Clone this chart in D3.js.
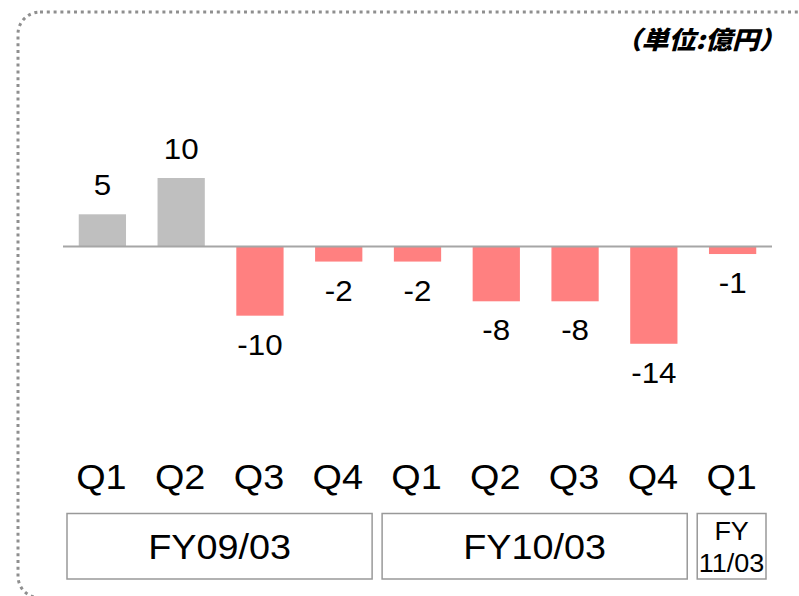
<!DOCTYPE html>
<html>
<head>
<meta charset="utf-8">
<script src="https://cdn.jsdelivr.net/npm/d3@7"></script>
<style>
  body { margin: 0; background: #fff; }
  text { font-family: Arial, "Liberation Sans", sans-serif; }
</style>
</head>
<body>
<div id="content"></div>
<script>
const quarters = ["Q1", "Q2", "Q3", "Q4", "Q1", "Q2", "Q3", "Q4", "Q1"]
const fiscalYears = ["FY09/03", "FY09/03", "FY09/03", "FY09/03", "FY10/03", "FY10/03", "FY10/03", "FY10/03", "FY11/03"]
const values = [4.7, 10, -10.1, -2.2, -2.2, -8, -8, -14.2, -1.1]
const valueLabels = ["5", "10", "-10", "-2", "-2", "-8", "-8", "-14", "-1"]
const groups = ["FY09/03", "FY10/03", "FY11/03"]
const groupLines = [["FY09/03"], ["FY10/03"], ["FY", "11/03"]]
const unitLabel = "（単位:億円）"

const outerWidth = 799
const outerHeight = 596
// the source text is a little wider than plain Arial
const stretch = 1.08
const place = (x, y) => `translate(${x},${y}) scale(${stretch},1)`

const svg = d3.select("#content").append("svg")
    .attr("width", outerWidth)
    .attr("height", outerHeight)

// dotted rounded frame, runs off the right and bottom edges
svg.append("rect")
    .attr("x", 18)
    .attr("y", 12)
    .attr("width", 820)
    .attr("height", 586)
    .attr("rx", 22)
    .attr("fill", "none")
    .attr("stroke", "#8f8f8f")
    .attr("stroke-width", 3)
    .attr("stroke-dasharray", "3 3.8")

svg.append("text")
    .attr("transform", place(786, 49))
    .attr("text-anchor", "end")
    .style("font-family", "'Noto Sans CJK JP', sans-serif")
    .style("font-size", "25px")
    .style("font-weight", "900")
    .style("font-style", "italic")
    .text(unitLabel)

// scales
const xScale = d3.scaleBand()
    .domain(d3.range(values.length))
    .range([63, 772])
    .paddingInner(0.4)
    .paddingOuter(0.2)

const yScale = d3.scaleLinear()
    .domain([0, 10])
    .range([246.5, 178])

const cx = i => xScale(i) + xScale.bandwidth() / 2

// bars
svg.selectAll(".bar")
    .data(values)
    .enter().append("rect")
    .attr("class", "bar")
    .attr("x", (d, i) => xScale(i))
    .attr("width", xScale.bandwidth())
    .attr("y", d => yScale(Math.max(0, d)))
    .attr("height", d => Math.abs(yScale(d) - yScale(0)))
    .style("fill", d => d >= 0 ? "#bfbfbf" : "#ff8080")

// zero line
svg.append("line")
    .attr("x1", 63)
    .attr("x2", 772)
    .attr("y1", yScale(0))
    .attr("y2", yScale(0))
    .attr("stroke", "#a6a6a6")
    .attr("stroke-width", 2)

// value labels
svg.selectAll(".value")
    .data(values)
    .enter().append("text")
    .attr("class", "value")
    .attr("transform", (d, i) => place(cx(i), d >= 0 ? yScale(d) - 19 : yScale(d) + 39))
    .attr("text-anchor", "middle")
    .style("font-size", "29px")
    .text((d, i) => valueLabels[i])

// quarter labels
svg.selectAll(".quarter")
    .data(quarters)
    .enter().append("text")
    .attr("class", "quarter")
    .attr("transform", (d, i) => place(cx(i) - 1, 489))
    .attr("text-anchor", "middle")
    .style("font-size", "35px")
    .text(d => d)

// fiscal year boxes
const pad = xScale.step() * 0.2
const groupData = groups.map((g, gi) => {
    const idx = d3.range(values.length).filter(i => fiscalYears[i] === g)
    return {
        lines: groupLines[gi],
        x0: xScale(idx[0]) - pad + 4,
        x1: xScale(idx[idx.length - 1]) + xScale.bandwidth() + pad - 6,
    }
})

const box = svg.selectAll(".box")
    .data(groupData)
    .enter().append("g")
    .attr("class", "box")

box.append("rect")
    .attr("x", d => d.x0)
    .attr("y", 513.5)
    .attr("width", d => d.x1 - d.x0)
    .attr("height", 65.5)
    .attr("fill", "#fff")
    .attr("stroke", "#999")
    .attr("stroke-width", 1.5)

box.each(function(d) {
    const g = d3.select(this)
    const mid = (d.x0 + d.x1) / 2
    if (d.lines.length === 1) {
        g.append("text")
            .attr("transform", place(mid, 559))
            .attr("text-anchor", "middle")
            .style("font-size", "35px")
            .text(d.lines[0])
    } else {
        d.lines.forEach((line, li) => {
            g.append("text")
                .attr("transform", place(mid, 540 + li * 32))
                .attr("text-anchor", "middle")
                .style("font-size", "25px")
                .text(line)
        })
    }
})
</script>
</body>
</html>
